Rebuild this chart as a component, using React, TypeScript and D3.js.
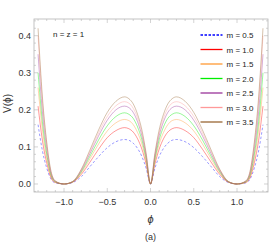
import React from "react";
import * as d3 from "d3";

// phi sample points
const phi = [
  -1.3, -1.25, -1.2, -1.15, -1.1, -1.0, -0.9, -0.8, -0.7, -0.6, -0.5, -0.4, -0.3, -0.25, -0.2, -0.15, -0.1, -0.05,
  0,
  0.05, 0.1, 0.15, 0.2, 0.25, 0.3, 0.4, 0.5, 0.6, 0.7, 0.8, 0.9, 1.0, 1.1, 1.15, 1.2, 1.25, 1.3,
];

const vM05 = [
  0.160, 0.090, 0.043, 0.013, 0.003, 0, 0.004, 0.020, 0.047, 0.074, 0.098, 0.114, 0.120, 0.118, 0.110, 0.096, 0.074, 0.042,
  0,
  0.042, 0.074, 0.096, 0.110, 0.118, 0.120, 0.114, 0.098, 0.074, 0.047, 0.020, 0.004, 0, 0.003, 0.013, 0.043, 0.090, 0.160,
];
const vM10 = [
  0.210, 0.118, 0.057, 0.017, 0.004, 0, 0.005, 0.026, 0.059, 0.094, 0.125, 0.144, 0.152, 0.149, 0.140, 0.122, 0.094, 0.053,
  0,
  0.053, 0.094, 0.122, 0.140, 0.149, 0.152, 0.144, 0.125, 0.094, 0.059, 0.026, 0.005, 0, 0.004, 0.017, 0.057, 0.118, 0.210,
];
const vM15 = [
  0.260, 0.146, 0.070, 0.021, 0.005, 0, 0.005, 0.030, 0.068, 0.108, 0.143, 0.165, 0.174, 0.171, 0.160, 0.139, 0.108, 0.061,
  0,
  0.061, 0.108, 0.139, 0.160, 0.171, 0.174, 0.165, 0.143, 0.108, 0.068, 0.030, 0.005, 0, 0.005, 0.021, 0.070, 0.146, 0.260,
];
const vM20 = [
  0.300, 0.168, 0.081, 0.024, 0.006, 0, 0.006, 0.033, 0.075, 0.119, 0.157, 0.182, 0.192, 0.188, 0.177, 0.154, 0.119, 0.067,
  0,
  0.067, 0.119, 0.154, 0.177, 0.188, 0.192, 0.182, 0.157, 0.119, 0.075, 0.033, 0.006, 0, 0.006, 0.024, 0.081, 0.168, 0.300,
];
const vM25 = [
  0.350, 0.196, 0.095, 0.028, 0.007, 0, 0.006, 0.036, 0.082, 0.130, 0.172, 0.200, 0.210, 0.206, 0.193, 0.168, 0.130, 0.074,
  0,
  0.074, 0.130, 0.168, 0.193, 0.206, 0.210, 0.200, 0.172, 0.130, 0.082, 0.036, 0.006, 0, 0.007, 0.028, 0.095, 0.196, 0.350,
];
const vM30 = [
  0.400, 0.224, 0.108, 0.032, 0.008, 0, 0.007, 0.038, 0.087, 0.138, 0.182, 0.211, 0.222, 0.218, 0.204, 0.178, 0.138, 0.078,
  0,
  0.078, 0.138, 0.178, 0.204, 0.218, 0.222, 0.211, 0.182, 0.138, 0.087, 0.038, 0.007, 0, 0.008, 0.032, 0.108, 0.224, 0.400,
];
const vM35 = [
  0.420, 0.235, 0.113, 0.034, 0.008, 0, 0.007, 0.040, 0.092, 0.146, 0.193, 0.223, 0.235, 0.230, 0.216, 0.188, 0.146, 0.082,
  0,
  0.082, 0.146, 0.188, 0.216, 0.230, 0.235, 0.223, 0.193, 0.146, 0.092, 0.040, 0.007, 0, 0.008, 0.034, 0.113, 0.235, 0.420,
];

const labels = ["m = 0.5", "m = 1.0", "m = 1.5", "m = 2.0", "m = 2.5", "m = 3.0", "m = 3.5"];
const series = [vM05, vM10, vM15, vM20, vM25, vM30, vM35];
const colors = ["#0000ff", "#ff0000", "#ff9933", "#00ee00", "#993399", "#ff9999", "#996633"];

const xTicks = [-1.0, -0.5, 0.0, 0.5, 1.0];
const yTicks = [0.0, 0.1, 0.2, 0.3, 0.4];

const W = 273;
const H = 245;
const L = 34, R = 268, T = 19, B = 192;

export default function App() {
  const x = d3.scaleLinear().domain([-1.347, 1.358]).range([L, R]);
  const y = d3.scaleLinear().domain([-0.0216, 0.445]).range([B, T]);

  const line = d3
    .line<number>()
    .x((_, i) => x(phi[i]))
    .y((d) => y(d))
    .curve(d3.curveMonotoneX);

  const xMinor = d3.range(-13, 14).map((k) => k / 10);
  const yMinor = d3.range(-1, 23).map((k) => k / 50);
  const fmt = (v: number) => d3.format(".1f")(v).replace("-", "\u2212");
  const font = "'Liberation Sans', Arial, sans-serif";
  const frame = "#b5b5b5";

  return (
    <svg
      width={W}
      height={H}
      style={{ position: "absolute", left: 0, top: 0, background: "#fff" }}
      fontFamily={font}
    >
      <defs>
        <clipPath id="plot">
          <rect x={L} y={T} width={R - L} height={B - T} />
        </clipPath>
      </defs>

      {/* ticks on all four sides */}
      {xMinor.map((v) => {
        const major = xTicks.some((t) => Math.abs(t - v) < 1e-6);
        const len = major ? 4 : 2;
        return (
          <g key={"xt" + v} stroke={frame} strokeWidth={0.6}>
            <line x1={x(v)} x2={x(v)} y1={B} y2={B - len} />
            <line x1={x(v)} x2={x(v)} y1={T} y2={T + len} />
          </g>
        );
      })}
      {yMinor.map((v) => {
        if (y(v) > B || y(v) < T) return null;
        const major = yTicks.some((t) => Math.abs(t - v) < 1e-6);
        const len = major ? 4 : 2;
        return (
          <g key={"yt" + v} stroke={frame} strokeWidth={0.6}>
            <line x1={L} x2={L + len} y1={y(v)} y2={y(v)} />
            <line x1={R} x2={R - len} y1={y(v)} y2={y(v)} />
          </g>
        );
      })}

      <g clipPath="url(#plot)" fill="none">
        {series.map((s, i) => (
          <path
            key={labels[i]}
            d={line(s) || ""}
            stroke={colors[i]}
            strokeOpacity={0.4}
            strokeWidth={1}
            strokeDasharray={i === 0 ? "2.5,2" : undefined}
          />
        ))}
      </g>

      <rect x={L} y={T} width={R - L} height={B - T} fill="none" stroke={frame} strokeWidth={0.8} />

      {xTicks.map((v) => (
        <text key={"xl" + v} x={x(v)} y={205} fontSize={9} textAnchor="middle" fill="#333">
          {fmt(v)}
        </text>
      ))}
      {yTicks.map((v) => (
        <text key={"yl" + v} x={31} y={y(v) + 3} fontSize={9} textAnchor="end" fill="#333">
          {fmt(v)}
        </text>
      ))}

      <text
        transform={`translate(11,${(T + B) / 2 - 2}) rotate(-90)`}
        fontSize={10}
        textAnchor="middle"
        fill="#333"
      >
        V(ϕ)
      </text>
      <text x={x(0)} y={223} fontSize={11} textAnchor="middle" fill="#333" fontStyle="italic">
        ϕ
      </text>
      <text x={x(0)} y={240} fontSize={9} textAnchor="middle" fill="#333">
        (a)
      </text>

      <text x={53} y={37} fontSize={8} fill="#222">
        n = z = 1
      </text>

      {labels.map((lab, i) => {
        const ly = 35 + i * 14.5;
        return (
          <g key={"lg" + lab}>
            <line
              x1={200.5}
              x2={222.5}
              y1={ly}
              y2={ly}
              stroke={colors[i]}
              strokeWidth={1.3}
              strokeDasharray={i === 0 ? "2.5,1.5" : undefined}
            />
            <text x={226.5} y={ly + 3} fontSize={8} fill="#222">
              {lab}
            </text>
          </g>
        );
      })}
    </svg>
  );
}
